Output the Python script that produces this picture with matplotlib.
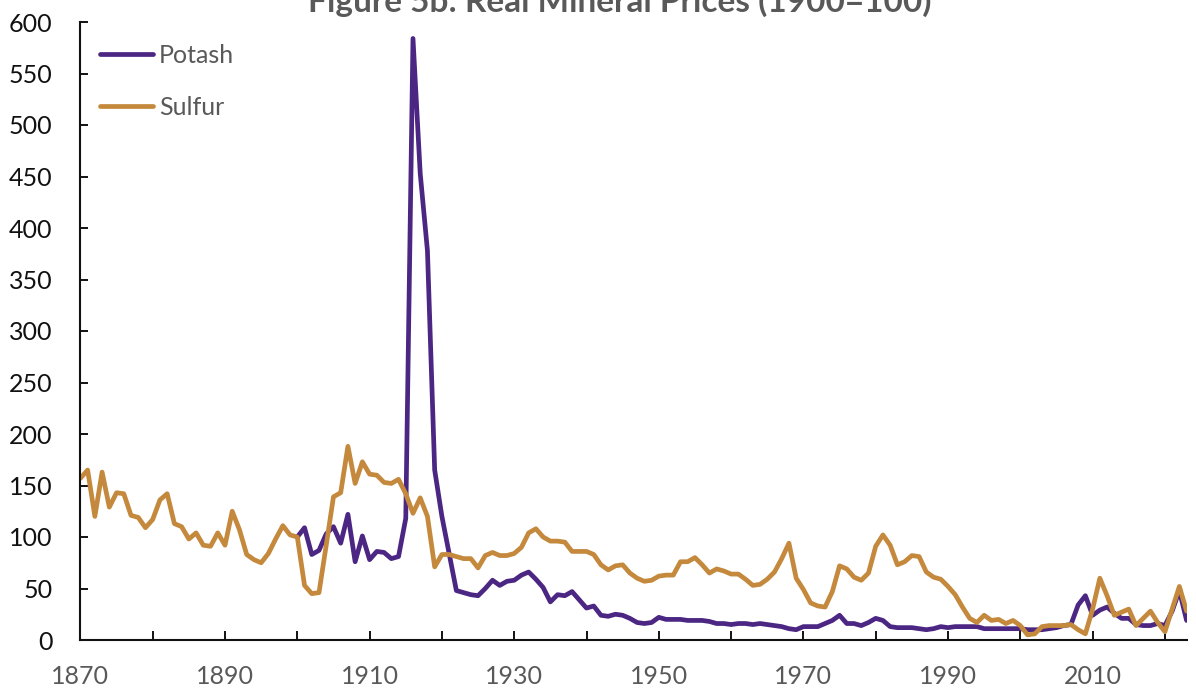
# plot.py
# Figure 5b - real mineral prices, potash vs sulfur (index 1900 = 100)

import matplotlib
matplotlib.use("Agg")
import matplotlib.pyplot as plt

plt.rcParams['font.family'] = ['Lato', 'DejaVu Sans']

# Data
sulfur_years = list(range(1870, 2024))
sulfur = [
    157, 165, 120, 163, 129, 143, 142, 121, 119, 109,   # 1870s
    117, 136, 142, 113, 110, 98, 104, 92, 91, 104,      # 1880s
    92, 125, 107, 83, 78, 75, 84, 98, 111, 102,         # 1890s
    100, 53, 45, 46, 92, 139, 143, 188, 152, 173,       # 1900s
    161, 160, 153, 152, 156, 142, 123, 138, 120, 71,    # 1910s
    83, 83, 81, 79, 79, 70, 82, 85, 82, 82,             # 1920s
    84, 90, 104, 108, 100, 96, 96, 95, 86, 86,          # 1930s
    86, 83, 73, 68, 72, 73, 65, 60, 57, 58,             # 1940s
    62, 63, 63, 76, 76, 80, 73, 65, 69, 67,             # 1950s
    64, 64, 59, 53, 54, 59, 66, 79, 94, 60,             # 1960s
    49, 36, 33, 32, 47, 72, 69, 61, 58, 65,             # 1970s
    91, 102, 92, 73, 76, 82, 81, 66, 61, 59,            # 1980s
    52, 44, 32, 21, 17, 24, 19, 20, 16, 19,             # 1990s
    14, 5, 6, 13, 14, 14, 14, 15, 10, 6,                # 2000s
    30, 60, 43, 24, 27, 30, 14, 21, 28, 17,             # 2010s
    8, 30, 52, 28,                                      # 2020-2023
]

potash_years = list(range(1900, 2024))
potash = [
    100, 109, 83, 87, 103, 110, 94, 122, 76, 101,       # 1900s
    78, 86, 85, 79, 81, 118, 584, 453, 378, 165,        # 1910s
    120, 84, 48, 46, 44, 43, 50, 58, 53, 57,            # 1920s
    58, 63, 66, 59, 51, 37, 44, 43, 47, 39,             # 1930s
    31, 33, 24, 23, 25, 24, 21, 17, 16, 17,             # 1940s
    22, 20, 20, 20, 19, 19, 19, 18, 16, 16,             # 1950s
    15, 16, 16, 15, 16, 15, 14, 13, 11, 10,             # 1960s
    13, 13, 13, 16, 19, 24, 16, 16, 14, 17,             # 1970s
    21, 19, 13, 12, 12, 12, 11, 10, 11, 13,             # 1980s
    12, 13, 13, 13, 13, 11, 11, 11, 11, 11,             # 1990s
    11, 10, 10, 10, 11, 12, 14, 15, 34, 43,             # 2000s
    24, 29, 32, 26, 21, 21, 15, 14, 14, 16,             # 2010s
    14, 28, 48, 19,                                     # 2020-2023
]

x_labels = list(range(1870, 2011, 20))
x_minor = list(range(1880, 2021, 20))

POTASH_COLOR = "#4B2683"
SULFUR_COLOR = "#C4893C"
AXIS_COLOR = "#111111"
GREY_TEXT = "#595959"

W, H = 1196, 692
fig = plt.figure(figsize=(W / 100, H / 100), dpi=100)
ax = fig.add_axes([80.4 / W, 52 / H, 1106.2 / W, 618 / H])

line_kw = dict(linewidth=3.4, solid_joinstyle='round', solid_capstyle='round')
ax.plot(potash_years, potash, color=POTASH_COLOR, label="Potash", **line_kw)
ax.plot(sulfur_years, sulfur, color=SULFUR_COLOR, label="Sulfur", **line_kw)

ax.set_xlim(1870, 2023)
ax.set_ylim(0, 600)
ax.set_yticks(range(0, 601, 50))
ax.set_xticks(x_labels)
ax.set_xticks(x_minor, minor=True)

for side in ("top", "right"):
    ax.spines[side].set_visible(False)
for side in ("left", "bottom"):
    ax.spines[side].set_color(AXIS_COLOR)
    ax.spines[side].set_linewidth(1.5)

ax.tick_params(axis='x', which='both', direction='in', length=6.5, width=1.4,
               color=AXIS_COLOR, pad=18, labelsize=18, labelcolor=GREY_TEXT)
ax.tick_params(axis='y', direction='in', length=5.8, width=1.4,
               color=AXIS_COLOR, pad=20, labelsize=18, labelcolor="#111111")

ax.legend(loc='upper left', bbox_to_anchor=(19.6 / 1106.2, 1 - 22 / 618),
          frameon=False, fontsize=18, handlelength=2.1, handletextpad=0.25,
          labelspacing=1.15, borderpad=0, borderaxespad=0,
          labelcolor=GREY_TEXT)

# title sits partly above the canvas edge, as in the original figure
fig.text(620 / W, 1 - 12 / H, "Figure 5b: Real Mineral Prices (1900=100)",
         ha='center', va='baseline', fontsize=24, fontweight='bold',
         color=GREY_TEXT)

fig.savefig("out.png", dpi=100)
plt.close(fig)
